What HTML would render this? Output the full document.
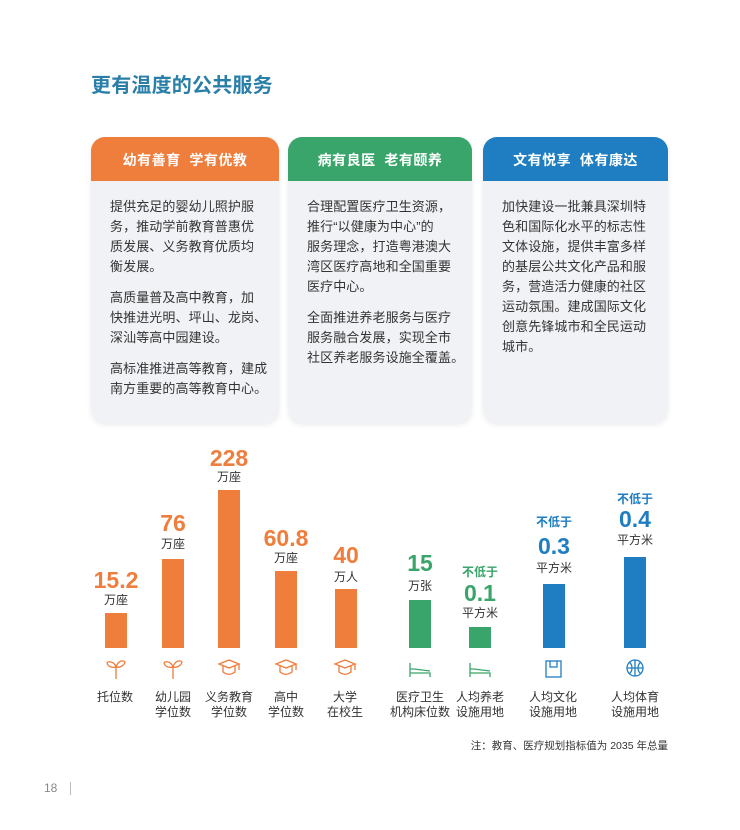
<!DOCTYPE html>
<html><head><meta charset="utf-8"><style>
body{margin:0;width:740px;height:830px;background:#fff;position:relative;overflow:hidden;font-family:"Liberation Sans","Noto Sans CJK SC",sans-serif;color:#333}
.a{position:absolute}
.title{left:91px;top:69px;font-size:20px;font-weight:bold;color:#2a7fa8;letter-spacing:0.2px}
.card{position:absolute;top:137px;height:286px;background:#f1f2f6;border-radius:14px;box-shadow:0 2px 6px rgba(0,0,0,0.08);overflow:hidden}
.hd{height:44px;color:#fff;font-size:14px;font-weight:bold;text-align:center;line-height:46px;letter-spacing:0.5px}
.bd{position:absolute;left:19px;top:60px;font-size:13px;line-height:20px;color:#333;white-space:nowrap;letter-spacing:0.1px}
.bd p{margin:0 0 11px 0}
.bar{position:absolute;width:22px;bottom:182px}
.num{position:absolute;font-weight:bold;font-size:23px;text-align:center;width:80px;line-height:24px}
.u{position:absolute;font-size:12px;text-align:center;width:80px;line-height:14px;color:#333}
.lab{position:absolute;font-size:12px;text-align:center;width:90px;line-height:15px;top:690px;color:#333}
.o{color:#ef7d3c}.g{color:#3aa56b}.b{color:#1f7ec1}
</style></head><body>
<div class="a title">更有温度的公共服务</div>

<div class="card" style="left:91px;width:188px"><div class="hd" style="background:#ef7d3c">幼有善育&nbsp;&nbsp;学有优教</div>
<div class="bd"><p>提供充足的婴幼儿照护服<br>务，推动学前教育普惠优<br>质发展、义务教育优质均<br>衡发展。</p><p>高质量普及高中教育，加<br>快推进光明、坪山、龙岗、<br>深汕等高中园建设。</p><p>高标准推进高等教育，建成<br>南方重要的高等教育中心。</p></div></div>
<div class="card" style="left:288px;width:184px"><div class="hd" style="background:#3aa56b">病有良医&nbsp;&nbsp;老有颐养</div>
<div class="bd"><p>合理配置医疗卫生资源，<br>推行“以健康为中心”的<br>服务理念，打造粤港澳大<br>湾区医疗高地和全国重要<br>医疗中心。</p><p>全面推进养老服务与医疗<br>服务融合发展，实现全市<br>社区养老服务设施全覆盖。</p></div></div>
<div class="card" style="left:483px;width:185px"><div class="hd" style="background:#1f7ec1">文有悦享&nbsp;&nbsp;体有康达</div>
<div class="bd"><p>加快建设一批兼具深圳特<br>色和国际化水平的标志性<br>文体设施，提供丰富多样<br>的基层公共文化产品和服<br>务，营造活力健康的社区<br>运动氛围。建成国际文化<br>创意先锋城市和全民运动<br>城市。</p></div></div>

<div class="bar" style="left:105px;height:35px;background:#ef7d3c"></div>
<div class="bar" style="left:162px;height:89px;background:#ef7d3c"></div>
<div class="bar" style="left:218px;height:158px;background:#ef7d3c"></div>
<div class="bar" style="left:275px;height:77px;background:#ef7d3c"></div>
<div class="bar" style="left:335px;height:59px;background:#ef7d3c"></div>
<div class="bar" style="left:409px;height:48px;background:#3aa56b"></div>
<div class="bar" style="left:469px;height:21px;background:#3aa56b"></div>
<div class="bar" style="left:543px;height:64px;background:#1f7ec1"></div>
<div class="bar" style="left:624px;height:91px;background:#1f7ec1"></div>

<div class="num o" style="left:76px;top:568px">15.2</div><div class="u" style="left:76px;top:593px">万座</div>
<div class="num o" style="left:133px;top:511px">76</div><div class="u" style="left:133px;top:537px">万座</div>
<div class="num o" style="left:189px;top:446px">228</div><div class="u" style="left:189px;top:470px">万座</div>
<div class="num o" style="left:246px;top:526px">60.8</div><div class="u" style="left:246px;top:551px">万座</div>
<div class="num o" style="left:306px;top:543px">40</div><div class="u" style="left:306px;top:570px">万人</div>
<div class="num g" style="left:380px;top:551px">15</div><div class="u" style="left:380px;top:579px">万张</div>
<div class="u g" style="left:440px;top:565px;font-weight:bold">不低于</div><div class="num g" style="left:440px;top:581px">0.1</div><div class="u" style="left:440px;top:606px">平方米</div>
<div class="u b" style="left:514px;top:515px;font-weight:bold">不低于</div><div class="num b" style="left:514px;top:534px">0.3</div><div class="u" style="left:514px;top:561px">平方米</div>
<div class="u b" style="left:595px;top:492px;font-weight:bold">不低于</div><div class="num b" style="left:595px;top:507px">0.4</div><div class="u" style="left:595px;top:533px">平方米</div>

<svg class="a" style="left:0;top:655px" width="740" height="26" fill="none" stroke-width="1.3">
<g stroke="#ef7d3c"><path d="M116 24V12M116 12c-2-6-8-6-9-4c1 4 6 5 9 4M116 12c2-7 8-7 9-5c-1 4-6 6-9 5"/>
<path d="M173 24V12M173 12c-2-6-8-6-9-4c1 4 6 5 9 4M173 12c2-7 8-7 9-5c-1 4-6 6-9 5"/>
<path d="M219 9l10-4 10 4-10 4z M223 11v6c4 3 8 3 12 0v-6 M239 9v6"/>
<path d="M276 9l10-4 10 4-10 4z M280 11v6c4 3 8 3 12 0v-6 M296 9v6"/>
<path d="M335 9l10-4 10 4-10 4z M339 11v6c4 3 8 3 12 0v-6 M355 9v6"/></g>
<g stroke="#3aa56b"><path d="M410 8v14M410 18h20v4M410 14h4M414 14l16 2"/><path d="M470 8v14M470 18h20v4M470 14h4M474 14l16 2"/></g>
<g stroke="#1f7ec1"><rect x="546" y="6" width="15" height="16"/><path d="M550 6v6h7V6"/><circle cx="635" cy="13" r="8"/><path d="M627 13h16M635 5v16M629 7c4 3 4 9 0 12M641 7c-4 3-4 9 0 12"/></g>
</svg>

<div class="lab" style="left:70px">托位数</div>
<div class="lab" style="left:128px">幼儿园<br>学位数</div>
<div class="lab" style="left:184px">义务教育<br>学位数</div>
<div class="lab" style="left:241px">高中<br>学位数</div>
<div class="lab" style="left:300px">大学<br>在校生</div>
<div class="lab" style="left:375px">医疗卫生<br>机构床位数</div>
<div class="lab" style="left:435px">人均养老<br>设施用地</div>
<div class="lab" style="left:508px">人均文化<br>设施用地</div>
<div class="lab" style="left:590px">人均体育<br>设施用地</div>

<div class="a" style="right:72px;top:738px;font-size:10.5px;color:#333">注：教育、医疗规划指标值为 2035 年总量</div>
<div class="a" style="left:44px;top:781px;font-size:12px;color:#888">18</div>
<div class="a" style="left:70px;top:782px;width:1px;height:13px;background:#bbb"></div>
</body></html>
